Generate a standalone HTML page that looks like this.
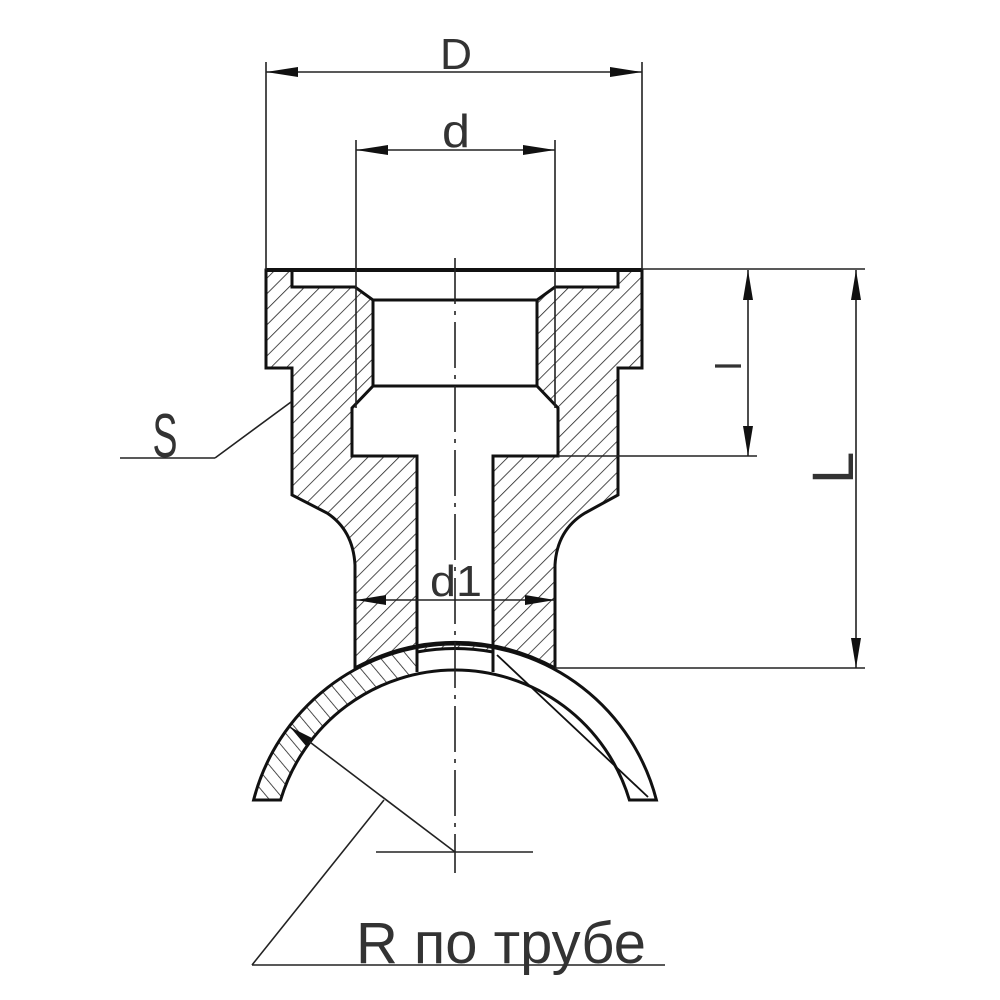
<!DOCTYPE html>
<html><head><meta charset="utf-8"><style>html,body{margin:0;padding:0;background:#fff}svg{display:block}</style></head>
<body>
<svg width="1000" height="1000" viewBox="0 0 1000 1000" xmlns="http://www.w3.org/2000/svg">
<defs>
<pattern id="h1" width="11" height="11" patternUnits="userSpaceOnUse" patternTransform="rotate(45)">
<line x1="0" y1="0" x2="0" y2="11" stroke="#222" stroke-width="1.6"/></pattern>
<pattern id="h2" width="11" height="11" patternUnits="userSpaceOnUse" patternTransform="rotate(-40)">
<line x1="0" y1="0" x2="0" y2="11" stroke="#222" stroke-width="1.6"/></pattern>
<clipPath id="leftc"><rect x="0" y="0" width="417" height="1000"/></clipPath>
</defs>
<rect width="1000" height="1000" fill="#fff"/>

<path d="M253.6,800 A208,208 0 0 1 656.4,800 L629.4,800 A182,182 0 0 0 280.6,800 Z" fill="url(#h2)" clip-path="url(#leftc)"/>
<path d="M253.6,800 A208,208 0 0 1 656.4,800 L629.4,800 A182,182 0 0 0 280.6,800 Z" fill="none" stroke="#111" stroke-width="3"/>
<line x1="497" y1="655" x2="648" y2="797" stroke="#111" stroke-width="1.8"/>

<path fill-rule="evenodd" fill="url(#h1)" stroke="#111" stroke-width="3" stroke-linejoin="miter"
d="M266,270 L642,270 L642,368 L618,368 L618,495 L585,513 Q557,530 555,565 L555,668 A208,208 0 0 0 355,668 L355,565 Q353,530 327,513 L292,495 L292,368 L266,368 Z
M292,270 L618,270 L618,287 L555,287 L537,300 L537,386 L558,408 L558,456 L493,456 L493,652 A208,208 0 0 0 417,652 L417,456 L352,456 L352,408 L373,386 L373,300 L355,287 L292,287 Z"/>
<line x1="266" y1="270" x2="642" y2="270" stroke="#111" stroke-width="4"/>
<line x1="373" y1="300" x2="537" y2="300" stroke="#111" stroke-width="3"/>
<line x1="373" y1="386" x2="537" y2="386" stroke="#111" stroke-width="3"/>
<line x1="417" y1="650" x2="417" y2="672" stroke="#111" stroke-width="3"/>
<line x1="493" y1="650" x2="493" y2="672" stroke="#111" stroke-width="3"/>

<g stroke="#222" stroke-width="1.6" fill="none">
<line x1="266" y1="62" x2="266" y2="270"/>
<line x1="642" y1="62" x2="642" y2="270"/>
<line x1="266" y1="72" x2="642" y2="72"/>
<line x1="356" y1="140" x2="356" y2="408"/>
<line x1="555" y1="140" x2="555" y2="408"/>
<line x1="356" y1="150" x2="555" y2="150"/>
<line x1="642" y1="269" x2="865" y2="269"/>
<line x1="558" y1="456" x2="757" y2="456"/>
<line x1="555" y1="668" x2="865" y2="668"/>
<line x1="748" y1="270" x2="748" y2="456"/>
<line x1="856" y1="270" x2="856" y2="668"/>
<line x1="356" y1="600" x2="555" y2="600"/>
<line x1="120" y1="458" x2="215" y2="458"/>
<line x1="215" y1="458" x2="291" y2="402"/>
<line x1="290" y1="727" x2="455" y2="852"/>
<line x1="384" y1="800" x2="252" y2="965"/>
<line x1="252" y1="965" x2="665" y2="965"/>
<line x1="376" y1="852" x2="533" y2="852"/>
<line x1="455" y1="258" x2="455" y2="873" stroke-dasharray="46 7 4 7"/>
</g>

<g fill="#111">
<polygon points="266,72 298,67 298,77"/>
<polygon points="642,72 610,67 610,77"/>
<polygon points="356,150 388,145 388,155"/>
<polygon points="555,150 523,145 523,155"/>
<polygon points="748,270 743,300 753,300"/>
<polygon points="748,456 743,426 753,426"/>
<polygon points="856,270 851,300 861,300"/>
<polygon points="856,668 851,638 861,638"/>
<polygon points="356,600 386,595 386,605"/>
<polygon points="555,600 525,595 525,605"/>
<polygon points="290,727 312,738 306,746"/>
</g>

<g font-family="Liberation Sans, sans-serif" fill="#333" font-weight="normal">
<text x="456" y="69" font-size="44" text-anchor="middle" textLength="32" lengthAdjust="spacingAndGlyphs">D</text>
<text x="456" y="147" font-size="46" text-anchor="middle" textLength="28" lengthAdjust="spacingAndGlyphs">d</text>
<text x="456" y="596" font-size="44" text-anchor="middle" textLength="52" lengthAdjust="spacingAndGlyphs">d1</text>
<text x="165" y="457" font-size="62" text-anchor="middle" textLength="25" lengthAdjust="spacingAndGlyphs">S</text>
<text transform="translate(741,370) rotate(-90)" font-size="36">l</text>
<text transform="translate(853,484) rotate(-90)" font-size="58">L</text>
<text x="356" y="963" font-size="58" textLength="290" lengthAdjust="spacingAndGlyphs">R по трубе</text>
</g>
</svg>
</body></html>
